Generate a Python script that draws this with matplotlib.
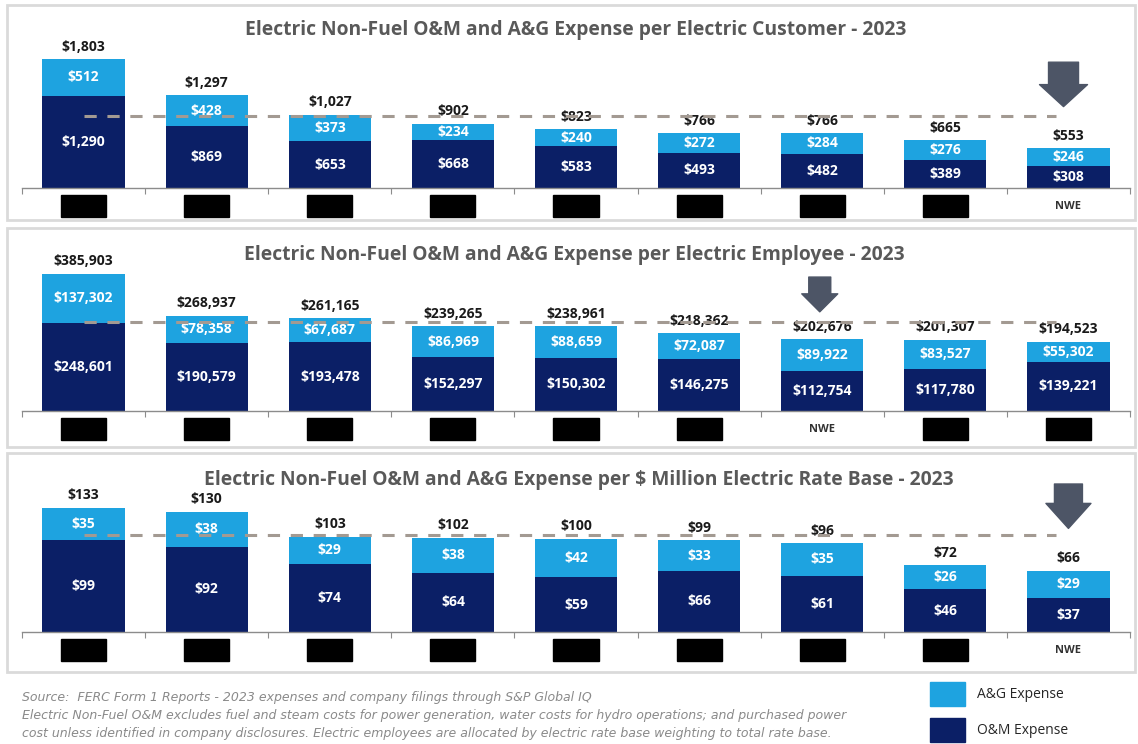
import numpy as np
import matplotlib.pyplot as plt
from matplotlib.patches import Rectangle
import matplotlib.transforms as mtransforms

# data
ag_customer = [512, 428, 373, 234, 240, 272, 284, 276, 246]
om_customer = [1290, 869, 653, 668, 583, 493, 482, 389, 308]
total_customer = [1803, 1297, 1027, 902, 823, 766, 766, 665, 553]

ag_employee = [137302, 78358, 67687, 86969, 88659, 72087, 89922, 83527, 55302]
om_employee = [248601, 190579, 193478, 152297, 150302, 146275, 112754, 117780, 139221]
total_employee = [385903, 268937, 261165, 239265, 238961, 218362, 202676, 201307, 194523]

ag_ratebase = [35, 38, 29, 38, 42, 33, 35, 26, 29]
om_ratebase = [99, 92, 74, 64, 59, 66, 61, 46, 37]
total_ratebase = [133, 130, 103, 102, 100, 99, 96, 72, 66]

titles = [
    "Electric Non-Fuel O&M and A&G Expense per Electric Customer - 2023",
    "Electric Non-Fuel O&M and A&G Expense per Electric Employee - 2023",
    "Electric Non-Fuel O&M and A&G Expense per $ Million Electric Rate Base - 2023",
]
nwe_index = [8, 6, 8]

AG_COLOR = '#1ea3e0'
OM_COLOR = '#0b1f66'
TITLE_COLOR = '#595959'
ARROW_COLOR = '#4d5566'

W, H = 1138, 744
fig = plt.figure(figsize=(W / 100, H / 100), dpi=100)
plt.rcParams['font.family'] = ['Open Sans', 'DejaVu Sans']


def fx(px):
    return px / W


def fy(py):
    return 1 - py / H


# panel layout in pixels: box top/bottom, axis line, title y, ylim, arrow
panels = [
    dict(box=(5, 220), base=188, title_y=30, title_x=576, ymax=2070,
         arrow=(7.96, 0.85, 0.55, 30, 48, 22)),
    dict(box=(228, 447), base=411, title_y=255, title_x=574, ymax=417000,
         arrow=(5.98, 0.905, 0.67, 22, 36, 18)),
    dict(box=(453, 672), base=632, title_y=480, title_x=579, ymax=160,
         arrow=(8.0, 1.0, 0.70, 28, 45, 25)),
]
series = [
    (ag_customer, om_customer, total_customer),
    (ag_employee, om_employee, total_employee),
    (ag_ratebase, om_ratebase, total_ratebase),
]

AX_H = 148
x = np.arange(9)

for p, (ag, om, tot), title, nwe in zip(panels, series, titles, nwe_index):
    # panel frame
    top, bot = p['box']
    fig.patches.append(Rectangle((fx(7), fy(bot)), fx(1135) - fx(7), fy(top) - fy(bot),
                                 transform=fig.transFigure, fill=False,
                                 edgecolor='#dadada', lw=2))
    fig.text(fx(p['title_x']), fy(p['title_y']), title, ha='center', va='center',
             fontsize=13.9, fontweight='bold', color=TITLE_COLOR)

    ax = fig.add_axes([fx(22), fy(p['base']), fx(1130) - fx(22), AX_H / H])
    ax.bar(x, om, width=0.667, color=OM_COLOR)
    ax.bar(x, ag, width=0.667, bottom=om, color=AG_COLOR)
    ax.set_xlim(-0.5, 8.5)
    ax.set_ylim(0, p['ymax'])

    for i in x:
        ax.text(i, om[i] / 2, f"${om[i]:,}", ha='center', va='center',
                color='white', fontsize=10, fontweight='bold')
        ax.text(i, om[i] + ag[i] / 2, f"${ag[i]:,}", ha='center', va='center',
                color='white', fontsize=10, fontweight='bold')
        ax.annotate(f"${tot[i]:,}", (i, om[i] + ag[i]), xytext=(0, 4),
                    textcoords='offset points', ha='center', va='bottom',
                    fontsize=10, fontweight='bold', color='#1a1a1a')

    # peer average (NWE excluded)
    peers = [t for j, t in enumerate(tot) if j != nwe]
    avg = np.mean(peers)
    ax.plot([0, 7.9], [avg, avg], color='#a39a92', lw=2.2, dashes=(4, 3.5), zorder=3)

    # category labels: peers are redacted with black boxes
    trans = mtransforms.blended_transform_factory(ax.transData, ax.transAxes)
    for i in x:
        if i == nwe:
            ax.text(i, -0.125, "NWE", transform=trans, ha='center', va='center',
                    fontsize=8, fontweight='bold', color='#333333')
        else:
            ax.add_patch(Rectangle((i - 0.183, -0.198), 0.366, 0.152, transform=trans,
                                   color='black', clip_on=False))

    # highlight arrow
    ax_x, y0, y1, tail, head, hl = p['arrow']
    ms = 10
    ax.annotate('', xy=(ax_x, y1), xytext=(ax_x, y0),
                xycoords=('data', 'axes fraction'), textcoords=('data', 'axes fraction'),
                arrowprops=dict(arrowstyle=f'simple,head_length={hl * 0.72 / ms},'
                                           f'head_width={head * 0.72 / ms},'
                                           f'tail_width={tail * 0.72 / ms}',
                                mutation_scale=ms, color=ARROW_COLOR,
                                shrinkA=0, shrinkB=0),
                annotation_clip=False)

    for s in ['top', 'right', 'left']:
        ax.spines[s].set_visible(False)
    ax.spines['bottom'].set_color('#8c8c8c')
    ax.spines['bottom'].set_linewidth(1)
    ax.set_yticks([])
    ax.set_xticks(np.arange(-0.5, 9, 1))
    ax.set_xticklabels([])
    ax.tick_params(axis='x', length=4, color='#8c8c8c', direction='out')
    ax.patch.set_alpha(0)

# footer notes
notes = [
    "Source:  FERC Form 1 Reports - 2023 expenses and company filings through S&P Global IQ",
    "Electric Non-Fuel O&M excludes fuel and steam costs for power generation, water costs for hydro operations; and purchased power",
    "cost unless identified in company disclosures. Electric employees are allocated by electric rate base weighting to total rate base.",
]
for k, line in enumerate(notes):
    fig.text(fx(22), fy(698 + 18 * k), line, ha='left', va='center', fontsize=9,
             style='italic', color='#8a8a8a',
             family=['Liberation Sans Narrow', 'DejaVu Sans'])

# legend
legend_items = [("A&G Expense", AG_COLOR), ("O&M Expense", OM_COLOR)]
for k, (lab, col) in enumerate(legend_items):
    yc = 694 + 36 * k
    fig.patches.append(Rectangle((fx(930), fy(yc + 12)), fx(35), 24 / H,
                                 transform=fig.transFigure, color=col))
    fig.text(fx(977), fy(yc), lab, ha='left', va='center', fontsize=10,
             color='#262626')

fig.savefig('out.png', dpi=100)
